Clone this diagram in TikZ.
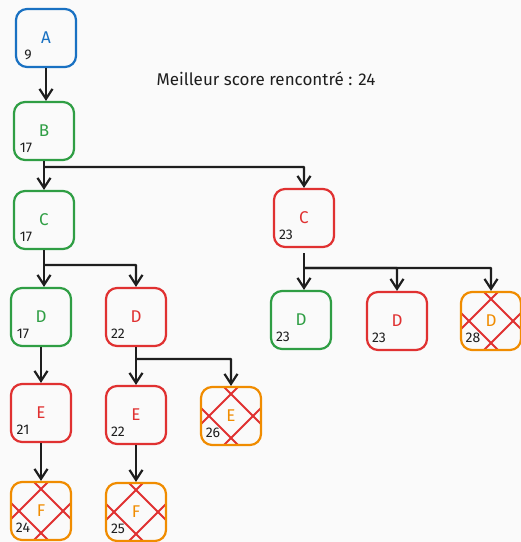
\documentclass[tikz,border=0pt]{standalone}
\usepackage{fontspec}
\setmainfont{Fira Sans}
\usetikzlibrary{arrows.meta,calc}

\definecolor{bg}{RGB}{250,250,250}
\definecolor{ink}{RGB}{30,30,30}
\definecolor{sblue}{RGB}{25,113,194}
\definecolor{sgreen}{RGB}{47,158,68}
\definecolor{sred}{RGB}{224,49,49}
\definecolor{sorange}{RGB}{240,140,0}

\tikzset{
  box/.style={draw=#1, text=#1, line width=2.2pt, rounded corners=11pt,
    minimum width=60pt, minimum height=58pt, inner sep=0pt,
    font=\fontsize{17}{17}\selectfont},
  pruned/.style={box=sorange,
    path picture={
      \begin{scope}[line width=1.8pt, draw=sred]
        \draw ([shift={(-9pt,31pt)}]path picture bounding box.center)
           -- ([shift={(32pt,-10pt)}]path picture bounding box.center);
        \draw ([shift={(-32pt,10pt)}]path picture bounding box.center)
           -- ([shift={(9pt,-31pt)}]path picture bounding box.center);
        \draw ([shift={(32pt,10pt)}]path picture bounding box.center)
           -- ([shift={(-9pt,-31pt)}]path picture bounding box.center);
        \draw ([shift={(9pt,31pt)}]path picture bounding box.center)
           -- ([shift={(-32pt,-10pt)}]path picture bounding box.center);
      \end{scope}}},
  score/.style={text=ink, inner sep=0pt, font=\fontsize{14}{14}\selectfont},
  arr/.style={draw=ink, line width=2.2pt, rounded corners=0.5pt,
    -{Straight Barb[length=10pt,width=13pt,line width=2.2pt]}}
}

% search state: name, x, y, box style, letter, score
\newcommand{\searchstate}[6]{%
  \node[#4] (#1) at (#2,#3) {#5};
  \node[score] (#1s) at ($(#1.center)+(-18pt,-17pt)$) {#6};
}

\begin{document}
\begin{tikzpicture}[x=1pt, y=-1pt]
  \fill[bg] (0,0) rectangle (521,542);
  \useasboundingbox (0,0) rectangle (521,542);

  \node[text=ink, font=\fontsize{17}{17}\selectfont] (best) at (266,79)
    {Meilleur score rencontré : 24};

  \searchstate{A}{46}{38}{box=sblue}{A}{9}
  \searchstate{B}{44}{131}{box=sgreen}{B}{17}
  \searchstate{Cl}{44}{220}{box=sgreen}{C}{17}
  \searchstate{Cr}{304}{218}{box=sred}{C}{23}
  \searchstate{Da}{41}{317}{box=sgreen}{D}{17}
  \searchstate{Db}{136}{317}{box=sred}{D}{22}
  \searchstate{Dc}{301}{320}{box=sgreen}{D}{23}
  \searchstate{Dd}{397}{321}{box=sred}{D}{23}
  \searchstate{De}{491}{321}{pruned}{D}{28}
  \searchstate{Ea}{41}{413}{box=sred}{E}{21}
  \searchstate{Eb}{136}{415}{box=sred}{E}{22}
  \searchstate{Ec}{231}{416}{pruned}{E}{26}
  \searchstate{Fa}{41}{511}{pruned}{F}{24}
  \searchstate{Fb}{136}{512}{pruned}{F}{25}

  % branching points
  \coordinate (jB) at (44,167);
  \coordinate (jCl) at (44,265);
  \coordinate (jCr) at (304,268);
  \coordinate (jDb) at (137,359);

  % A -> B
  \draw[arr] (A.south) -- (A.south |- B.north);
  % B -> C, C
  \draw[arr] (B.south) -- (B.south |- Cl.north);
  \draw[arr] (jB) -| (Cr.north);
  % C (left) -> D, D
  \draw[arr] (Cl.south) -- (Cl.south |- Da.north);
  \draw[arr] (jCl) -| (Db.north);
  % C (right) -> D, D, D
  \draw[arr, shorten <=5pt] (Cr.south) -- (Cr.south |- Dc.north);
  \draw[arr] (jCr) -| (Dd.north);
  \draw[arr] (jCr) -| (De.north);
  % D -> E
  \draw[arr] (Da.south) -- (Ea.north);
  \draw[arr] (Db.south) -- (Db.south |- Eb.north);
  \draw[arr] (jDb) -| (Ec.north);
  % E -> F
  \draw[arr] (Ea.south) -- (Fa.north);
  \draw[arr] (Eb.south) -- (Eb.south |- Fb.north);
\end{tikzpicture}
\end{document}
